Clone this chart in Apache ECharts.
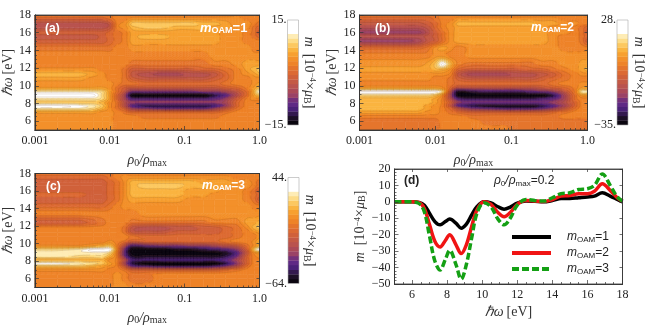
<!DOCTYPE html>
<html>
<head>
<meta charset="utf-8">
<style>html,body{margin:0;padding:0;background:#fff}#chart{width:654px;height:327px;filter:blur(0.35px)}</style>
<script src="https://cdn.jsdelivr.net/npm/echarts@6/dist/echarts.min.js"></script>
</head>
<body>
<div id="chart"></div>
<script>
// contour panels: colour-band level (0 black .. 21 white) read at each rho / energy crossing
var rhoCols = [0.001, 0.002, 0.004, 0.006, 0.008, 0.01, 0.0125, 0.016, 0.02, 0.03, 0.05, 0.08, 0.12, 0.18, 0.25, 0.35, 0.5, 0.7, 0.85, 1];
var energyRows = [18, 17.6, 17, 16.6, 16, 15.6, 15, 14.3, 13.4, 12.4, 11.8, 11.3, 10.8, 10.2, 9.7, 9.3, 8.9, 8.5, 8.1, 7.7, 7.4, 7, 6.5, 6, 5];

var gridA = [
  [12,12,12,12,12,12,13,13,13,13,13,13,13,13,13,13,13,13,13,13],
  [11,11,11,11,11,12,13,13,14,14,14,14,14,14,14,14,14,13,13,13],
  [8,8,8,8,8,9,13,14,17,17,17,17,17,16,16,15,14,14,13,12],
  [8,8,8,8,8,9,13,14,16,17,17,16,16,16,15,15,14,14,12,11],
  [10,10,10,10,10,11,12,13,15,15,15,15,15,15,15,14,14,13,12,10],
  [9,9,9,9,10,11,12,13,15,16,16,15,15,15,15,14,14,13,12,11],
  [10,10,10,10,10,11,12,13,15,15,15,15,15,15,15,14,14,13,13,13],
  [12,12,12,12,12,12,13,13,14,14,14,14,14,14,14,14,14,14,13,13],
  [13,13,13,13,13,13,13,13,13,13,13,13,13,13,14,14,14,14,14,14],
  [13,13,13,13,13,13,13,13,12,12,12,12,12,12,13,13,14,15,15,15],
  [14,14,14,14,13,13,13,12,10,10,10,10,10,11,11,12,13,15,16,17],
  [16,16,16,15,14,13,13,12,9,8,7,7,8,8,9,11,13,14,15,16],
  [15,15,15,14,14,13,13,12,10,9,9,9,9,9,10,11,13,13,14,14],
  [14,14,14,14,14,14,13,12,12,11,11,11,11,11,11,12,13,13,14,15],
  [15,15,15,15,15,14,12,10,9,9,9,9,9,9,9,10,11,13,15,17],
  [19,19,19,19,18,15,12,9,5,5,5,5,5,6,6,7,9,12,16,20],
  [21,21,21,21,18,15,11,7,0,0,0,0,0,0,2,4,8,12,15,17],
  [19,19,19,19,18,15,11,7,3,3,3,3,3,3,4,6,10,13,14,14],
  [17,17,17,17,16,14,12,8,6,6,6,6,6,6,6,7,11,13,13,13],
  [21,21,20,19,17,14,12,8,4,2,2,2,2,2,3,6,11,13,13,13],
  [19,19,19,18,16,14,12,10,6,5,4,4,4,4,6,9,12,13,13,13],
  [15,15,15,15,14,14,13,12,11,11,11,11,11,11,11,12,13,13,13,13],
  [14,14,14,14,14,14,13,13,13,12,12,12,12,12,12,13,13,13,13,13],
  [14,14,14,14,14,14,13,13,13,13,13,13,13,13,13,13,13,13,13,13],
  [14,14,14,14,14,14,13,13,13,13,13,13,13,13,13,13,13,13,13,13]
];
var gridB = [
  [12,12,12,12,12,12,13,13,13,13,13,13,13,13,13,13,13,13,13,13],
  [11,11,11,11,11,12,13,13,14,14,14,14,14,14,14,14,13,13,13,13],
  [9,9,9,9,10,11,13,14,16,16,16,16,16,16,15,15,14,14,13,13],
  [8,8,8,8,9,11,13,14,15,15,15,15,15,15,15,14,14,13,12,11],
  [6,6,6,6,8,10,12,14,15,15,15,15,15,15,15,14,14,13,12,10],
  [8,8,8,8,9,10,12,14,15,15,15,15,15,15,15,14,13,13,12,11],
  [6,6,6,7,9,10,12,14,15,15,15,15,15,15,15,14,13,13,12,10],
  [11,11,11,11,12,14,15,14,13,14,14,14,14,14,14,14,13,13,13,13],
  [13,13,13,13,13,14,14,13,13,14,14,14,14,14,14,14,14,14,14,14],
  [14,14,14,14,15,17,21,16,13,12,12,12,12,12,13,13,14,14,15,15],
  [15,15,15,15,15,16,16,14,11,10,10,10,10,11,11,12,13,14,15,16],
  [14,14,14,14,14,14,14,13,9,7,7,7,8,8,9,10,12,13,14,14],
  [14,14,14,14,14,13,13,12,10,9,9,9,9,9,10,11,12,13,13,13],
  [13,13,13,13,13,13,13,12,11,11,11,11,11,11,11,12,13,13,14,14],
  [15,15,15,15,15,15,14,11,8,8,8,8,8,8,9,10,11,13,15,15],
  [21,21,21,21,21,21,18,9,1,2,3,3,3,4,5,6,9,13,19,19],
  [18,18,18,18,18,17,14,7,0,0,0,0,0,0,0,2,7,12,15,15],
  [16,16,16,16,16,15,13,8,3,2,2,2,2,2,3,4,7,12,13,13],
  [16,16,16,16,16,15,13,10,6,5,5,5,5,5,5,6,8,11,13,13],
  [16,16,16,16,15,14,13,9,4,2,1,1,1,1,2,4,7,11,13,13],
  [16,16,16,16,15,14,13,11,8,5,4,3,3,3,4,6,9,12,13,13],
  [15,15,15,15,14,14,13,12,11,10,10,10,10,10,10,11,12,13,13,13],
  [13,13,13,13,13,13,13,13,13,12,12,12,12,12,12,12,13,13,13,13],
  [12,12,12,12,12,12,13,13,13,13,12,12,12,12,12,12,12,12,12,12],
  [12,12,12,12,12,12,13,13,13,13,13,13,12,12,12,12,12,12,12,12]
];
var gridC = [
  [12,12,12,12,12,12,13,13,13,13,13,13,13,13,13,13,13,13,13,13],
  [11,11,11,11,11,12,13,14,14,14,14,14,14,14,14,14,13,13,13,13],
  [10,10,10,10,10,11,12,14,16,16,16,16,16,15,15,15,14,14,13,12],
  [10,10,10,10,10,11,12,14,16,17,17,17,16,16,15,15,14,14,13,12],
  [10,10,10,10,10,11,12,14,16,16,16,16,15,15,15,14,14,13,12,10],
  [11,11,11,10,10,11,12,14,16,16,16,16,15,15,14,14,14,13,12,11],
  [10,10,10,10,10,11,12,14,15,15,15,15,14,14,14,14,14,13,12,10],
  [11,11,11,11,11,12,13,14,14,14,14,14,14,14,14,14,14,14,13,13],
  [13,13,13,13,13,13,13,13,13,14,14,14,14,14,14,14,14,14,14,14],
  [10,10,10,11,12,13,13,13,12,12,12,12,12,12,13,13,13,15,15,16],
  [13,13,13,13,13,13,13,12,9,8,8,9,9,10,10,11,12,14,16,17],
  [13,13,13,13,13,13,13,12,9,9,9,10,10,10,10,11,12,13,14,15],
  [13,13,13,13,13,13,13,13,12,11,11,11,11,11,11,11,12,13,13,14],
  [13,13,13,13,13,14,13,12,10,11,11,11,11,11,11,12,13,13,14,16],
  [14,14,14,15,16,17,13,8,3,4,5,5,6,6,7,8,9,12,14,16],
  [18,18,19,21,21,21,14,5,0,0,0,1,1,2,3,4,6,11,17,21],
  [19,19,19,19,19,18,13,4,0,0,0,0,0,0,0,1,4,10,14,15],
  [19,19,18,18,18,16,13,5,1,1,1,1,1,1,1,2,5,11,13,14],
  [16,16,16,16,16,14,13,8,3,3,3,3,3,3,3,4,7,11,13,13],
  [20,20,19,18,17,15,13,7,2,0,0,0,0,0,0,2,6,11,13,13],
  [17,17,17,16,15,14,13,9,4,3,2,2,2,2,3,5,8,12,13,13],
  [14,14,14,14,14,13,13,12,10,10,10,10,10,10,10,11,12,13,13,13],
  [13,13,13,13,13,13,14,13,12,12,13,13,13,13,13,13,13,13,13,13],
  [13,13,13,13,13,13,14,13,12,12,13,13,13,13,13,13,13,13,13,13],
  [13,13,13,13,13,13,14,14,13,13,13,13,13,13,13,13,13,13,13,13]
];

var bandColors = ['#0b0610', '#1c1026', '#33194f', '#4a2278', '#5f2a85', '#74317a', '#9a4266', '#ab4a58', '#b9534f', '#c45a45', '#d0613a', '#dc6a33', '#e5752c', '#ee8328', '#f3902a', '#f7a030', '#fab440', '#fcc860', '#fddc88', '#feecb5', '#ffffff', '#ffffff', '#ffffff'];

// panel (d) at rho0/rhomax = 0.2
var energy = [5, 6, 6.4, 6.7, 7, 7.3, 7.6, 7.9, 8.15, 8.5, 8.8, 9.1, 9.4, 9.7, 10.1, 10.5, 10.9, 11.25, 11.6, 12, 12.5, 13, 13.5, 14, 14.5, 15, 15.5, 16, 16.4, 16.85, 17.3, 17.7, 18];
var oam1 = [0, 0, -0.3, -2, -7, -12, -14, -12, -10.5, -13, -16, -13.5, -8, -3, 0, -0.7, -3, -4.5, -3.2, -0.8, 0.5, 0.3, 0, 0.8, 2, 2, 2.5, 3, 3.5, 5.5, 3.5, 1.5, 0];
var oam2 = [0, 0, -0.5, -4, -14, -24, -27.5, -23.5, -20, -26, -31.5, -26, -15, -5, 0, -1.5, -6.5, -9, -6.5, -1.5, 0.8, 0.5, 0.2, 1.3, 3.5, 3.8, 5, 5, 6.5, 11, 7, 2.5, 0.3];
var oam3 = [0, 0, -1, -6, -21, -36, -41.5, -35, -29.5, -38, -47, -38, -22, -7, -0.5, -3, -10.5, -14, -10, -2, 1.5, 0.8, 0.5, 2.5, 5, 5.5, 7.5, 8, 10, 17, 10, 3, 0.5];

var energyTicks = [6, 8, 10, 12, 14, 16, 18];
var energyMinor = [5, 5.5, 6.5, 7, 7.5, 8.5, 9, 9.5, 10.5, 11, 11.5, 12.5, 13, 13.5, 14.5, 15, 15.5, 16.5, 17, 17.5];
var rhoMinor = [0.002, 0.003, 0.004, 0.005, 0.006, 0.007, 0.008, 0.009, 0.02, 0.03, 0.04, 0.05, 0.06, 0.07, 0.08, 0.09, 0.2, 0.3, 0.4, 0.5, 0.6, 0.7, 0.8, 0.9];
var rhoTicks = [0.001, 0.01, 0.1, 1];
var mTicks = [-50, -40, -30, -20, -10, 0, 10, 20];
var mMinor = [-48, -46, -44, -42, -38, -36, -34, -32, -28, -26, -24, -22, -18, -16, -14, -12, -8, -6, -4, -2, 2, 4, 6, 8, 12, 14, 16, 18];

var serif = '"Liberation Serif"';
var sans = '"Liberation Sans"';
var frame = '#333';
var nameRich = {
  i: { fontFamily: serif, fontSize: 14, fontStyle: 'italic', color: '#333' },
  t: { fontFamily: serif, fontSize: 14, color: '#333' },
  s: { fontFamily: serif, fontSize: 10, color: '#333', verticalAlign: 'bottom', padding: [5, 0, 0, 0] },
  si: { fontFamily: serif, fontSize: 10, fontStyle: 'italic', color: '#333', verticalAlign: 'bottom', padding: [5, 0, 0, 0] },
  u: { fontFamily: serif, fontSize: 9, color: '#333', verticalAlign: 'top', padding: [0, 0, 4, 0] }
};
var rhoName = '{i|ρ}{s|0}{i|/ρ}{s|max}';
var energyName = '{i|ℏω} {t|[eV]}';
var mName = '{i|m}{t|  [10}{u|−4}{t|×}{i|μ}{s|B}{t|]}';

var option = {
  animation: false,
  backgroundColor: '#fff',
  textStyle: { fontFamily: serif },
  grid: [], xAxis: [], yAxis: [], series: [],
  graphic: []
};

function mark(ticks, len) {
  return { show: true, inside: true, length: len, customValues: ticks, lineStyle: { color: frame, width: 0.7 } };
}
function rhoLabel(v) {
  return v >= 1 ? '1.0' : String(+v.toPrecision(1));
}

// one frame: labelled axes at bottom/left, minor-tick axes on the same sides, ticks on top/right
function addFrame(box, xCfg, yCfg) {
  var g = option.grid.length;
  option.grid.push({ left: box[0], top: box[1], width: box[2], height: box[3], show: true, borderColor: frame, borderWidth: 0.8, backgroundColor: 'transparent', z: 5 });
  var xBase = { gridIndex: g, type: xCfg.type, logBase: 10, min: xCfg.min, max: xCfg.max, axisLine: { show: true, onZero: false, lineStyle: { color: frame, width: 0.8 } }, splitLine: { show: false }, z: 6 };
  var yBase = { gridIndex: g, type: 'value', min: yCfg.min, max: yCfg.max, axisLine: { show: true, onZero: false, lineStyle: { color: frame, width: 0.8 } }, splitLine: { show: false }, z: 6 };
  var x0 = option.xAxis.length, y0 = option.yAxis.length;
  option.xAxis.push(Object.assign({}, xBase, {
    position: 'bottom', axisTick: mark(xCfg.ticks, 4),
    axisLabel: { customValues: xCfg.ticks, formatter: xCfg.fmt, fontFamily: serif, fontSize: 12, color: '#222', margin: 5, hideOverlap: false, showMinLabel: true, showMaxLabel: true },
    name: xCfg.name, nameLocation: 'middle', nameGap: xCfg.gap, nameTextStyle: { rich: nameRich }
  }));
  option.xAxis.push(Object.assign({}, xBase, { position: 'bottom', axisLabel: { show: false }, axisTick: mark(xCfg.minor, 2) }));
  option.xAxis.push(Object.assign({}, xBase, { position: 'top', axisLabel: { show: false }, axisTick: mark(xCfg.ticks, 3) }));
  option.yAxis.push(Object.assign({}, yBase, {
    position: 'left', axisTick: mark(yCfg.ticks, 4),
    axisLabel: { customValues: yCfg.ticks, formatter: yCfg.fmt, fontFamily: serif, fontSize: 12, color: '#222', margin: 4, hideOverlap: false, showMinLabel: true, showMaxLabel: true },
    name: yCfg.name, nameLocation: 'middle', nameGap: yCfg.gap, nameTextStyle: { rich: nameRich }
  }));
  option.yAxis.push(Object.assign({}, yBase, { position: 'left', axisLabel: { show: false }, axisTick: mark(yCfg.minor, 2) }));
  option.yAxis.push(Object.assign({}, yBase, { position: 'right', axisLabel: { show: false }, axisTick: mark(yCfg.ticks, 3) }));
  return { x: x0, y: y0 };
}

// part of a polygon where level >= t
function clipAbove(pts, t) {
  var out = [];
  for (var i = 0; i < pts.length; i++) {
    var a = pts[i], b = pts[(i + 1) % pts.length];
    if (a[2] >= t) out.push(a);
    if ((a[2] >= t) !== (b[2] >= t)) {
      var f = (t - a[2]) / (b[2] - a[2]);
      out.push([a[0] + f * (b[0] - a[0]), a[1] + f * (b[1] - a[1]), t]);
    }
  }
  return out;
}
function poly(pts, color) {
  return { type: 'polygon', shape: { points: pts.map(function (p) { return [p[0], p[1]]; }) }, style: { fill: color, stroke: color, lineWidth: 0.5 }, silent: true };
}
function cubic(p0, p1, p2, p3, t) {
  return p1 + 0.5 * t * (p2 - p0 + t * (2 * p0 - 5 * p1 + 4 * p2 - p3 + t * (3 * p1 - p0 - 3 * p2 + p3)));
}
// rounds the contour shapes inside one cell, held to the range of that cell's own corners
function levelAt(levels, c, r, fx, fy) {
  var rows = [];
  for (var j = -1; j <= 2; j++) {
    var row = levels[Math.max(0, Math.min(levels.length - 1, r + j))];
    rows.push(cubic(row[Math.max(0, c - 1)], row[c], row[c + 1], row[Math.min(row.length - 1, c + 2)], fx));
  }
  var v = cubic(rows[0], rows[1], rows[2], rows[3], fy);
  var lo = Math.min(levels[r][c], levels[r][c + 1], levels[r + 1][c], levels[r + 1][c + 1]);
  var hi = Math.max(levels[r][c], levels[r][c + 1], levels[r + 1][c], levels[r + 1][c + 1]);
  return Math.max(lo, Math.min(hi, v));
}

var SUB = 4;
function contourItem(levels, lines) {
  return function (params, api) {
    var c = api.value(2), r = api.value(3);
    var a = api.coord([rhoCols[c], energyRows[r]]), b = api.coord([rhoCols[c + 1], energyRows[r + 1]]);
    var children = [];
    function node(i, j) {
      return [a[0] + (b[0] - a[0]) * i / SUB, a[1] + (b[1] - a[1]) * j / SUB, levelAt(levels, c, r, i / SUB, j / SUB)];
    }
    function shade(pts) {
      var vals = pts.map(function (p) { return p[2]; });
      var lo = Math.min.apply(null, vals), hi = Math.max.apply(null, vals);
      var start = Math.round(lo);
      if (!lines) children.push(poly(pts, bandColors[start]));
      for (var k = start + 1; k - 0.5 < hi; k++) {
        var part = clipAbove(pts, k - 0.5);
        if (part.length < 3) continue;
        if (lines) {
          var cut = part.filter(function (p) { return p[2] === k - 0.5; });
          if (cut.length === 2) children.push({ type: 'line', shape: { x1: cut[0][0], y1: cut[0][1], x2: cut[1][0], y2: cut[1][1] }, style: { stroke: 'rgba(110,62,30,0.3)', lineWidth: 0.5 }, silent: true });
        } else {
          children.push(poly(part, bandColors[k]));
        }
      }
    }
    var corners = [levels[r][c], levels[r][c + 1], levels[r + 1][c], levels[r + 1][c + 1]];
    if (corners[0] === corners[1] && corners[1] === corners[2] && corners[2] === corners[3]) {
      shade([node(0, 0), node(SUB, 0), node(SUB, SUB), node(0, SUB)]);
    } else {
      for (var i = 0; i < SUB; i++) {
        for (var j = 0; j < SUB; j++) {
          var p = node(i, j), q = node(i + 1, j), s = node(i + 1, j + 1), t = node(i, j + 1);
          shade([p, q, s]);
          shade([p, s, t]);
        }
      }
    }
    return { type: 'group', children: children };
  };
}

function barItem(params, api) {
  var p = api.coord([0, api.value(1)]), size = api.size([1, 1]);
  return { type: 'rect', shape: { x: p[0] - size[0] / 2, y: p[1] - size[1] / 2, width: size[0], height: size[1] + 0.3 }, style: { fill: bandColors[api.value(1)] }, silent: true };
}

function addPanel(levels, box, barBox, range, barLabels) {
  var ax = addFrame(box,
    { type: 'log', min: 0.001, max: 1, ticks: rhoTicks, minor: rhoMinor, fmt: rhoLabel, name: rhoName, gap: 23 },
    { min: 5, max: 18, ticks: energyTicks, minor: energyMinor, fmt: '{value}', name: energyName, gap: 17 });
  var cells = [];
  for (var r = 0; r < energyRows.length - 1; r++) {
    for (var c = 0; c < rhoCols.length - 1; c++) {
      cells.push([rhoCols[c], energyRows[r], c, r]);
    }
  }
  [false, true].forEach(function (lines) {
    option.series.push({
      type: 'custom', xAxisIndex: ax.x, yAxisIndex: ax.y, coordinateSystem: 'cartesian2d',
      data: cells, encode: { x: 0, y: 1 }, renderItem: contourItem(levels, lines),
      clip: true, silent: true, z: lines ? 3 : 2, progressive: 0
    });
  });

  // colour bar
  var g = option.grid.length;
  option.grid.push({ left: barBox[0], top: barBox[1], width: barBox[2], height: barBox[3], show: true, borderColor: '#aaa', borderWidth: 0.6, backgroundColor: 'transparent', z: 5 });
  var bx = option.xAxis.length, by = option.yAxis.length;
  option.xAxis.push({ gridIndex: g, type: 'category', data: ['m'], show: false });
  option.yAxis.push({ gridIndex: g, type: 'category', data: bandColors.map(function (col, i) { return i; }), show: false });
  option.yAxis.push({
    gridIndex: g, type: 'value', min: range[0], max: range[1], position: 'left',
    axisLine: { show: false }, axisTick: { show: false }, splitLine: { show: false },
    axisLabel: { customValues: range, formatter: function (v) { return barLabels[v === range[0] ? 0 : 1]; }, fontFamily: serif, fontSize: 12, color: '#222', margin: 1, showMinLabel: true, showMaxLabel: true, hideOverlap: false }
  });
  option.yAxis.push({
    gridIndex: g, type: 'value', min: range[0], max: range[1], position: 'right',
    axisLine: { show: false }, axisTick: { show: false }, axisLabel: { show: false }, splitLine: { show: false },
    name: mName, nameLocation: 'middle', nameRotate: -90, nameGap: 3, nameTextStyle: { rich: nameRich }
  });
  option.series.push({
    type: 'custom', xAxisIndex: bx, yAxisIndex: by, coordinateSystem: 'cartesian2d', silent: true, clip: true,
    data: bandColors.map(function (col, i) { return [0, i]; }), encode: { x: 0, y: 1 }, renderItem: barItem
  });
}

addPanel(gridA, [30.5, 15, 229, 115], [287.5, 20, 11, 105], [-15, 15], ['−15.', '15.']);
addPanel(gridB, [359.5, 15, 228, 115], [617, 20, 11, 105], [-35, 28], ['−35.', '28.']);
addPanel(gridC, [30.5, 173.5, 229, 114], [288, 177.5, 11, 106], [-64, 44], ['−64.', '44.']);

// panel (d)
var axD = addFrame([394.5, 169, 228, 115],
  { type: 'value', min: 5, max: 18, ticks: energyTicks, minor: energyMinor, fmt: '{value}', name: energyName, gap: 21 },
  { min: -50, max: 20, ticks: mTicks, minor: mMinor, fmt: function (v) { return v < 0 ? '−' + (-v) : String(v); }, name: mName, gap: 19 });
var lineSets = [
  ['mOAM=1', oam1, '#000000', 'solid'],
  ['mOAM=2', oam2, '#f01414', 'solid'],
  ['mOAM=3', oam3, '#14a014', [7, 3]]
];
lineSets.forEach(function (s) {
  option.series.push({
    name: s[0], type: 'line', xAxisIndex: axD.x, yAxisIndex: axD.y, showSymbol: false, symbol: 'none', smooth: 0.35,
    data: energy.map(function (e, i) { return [e, s[1][i]]; }),
    lineStyle: { color: s[2], width: 3.5, type: s[3] }, itemStyle: { color: s[2] }, z: 4
  });
});
option.legend = {
  left: 505, top: 226, orient: 'vertical', itemWidth: 39, itemHeight: 14, itemGap: 3.5,
  itemStyle: { opacity: 0 },
  lineStyle: { width: 4 },
  data: lineSets.map(function (s) { return s[0]; }),
  formatter: function (name) { return '{i|m}{s|OAM}{n|' + name.slice(4) + '}'; },
  textStyle: {
    padding: [0, 0, 0, 11],
    rich: {
      i: { fontFamily: sans, fontSize: 12, fontStyle: 'italic', color: '#222' },
      s: { fontFamily: sans, fontSize: 8, color: '#222', verticalAlign: 'bottom', padding: [5, 0, 0, 0] },
      n: { fontFamily: sans, fontSize: 12, color: '#222' }
    }
  }
};

function panelTag(x, y, color, body, size) {
  return {
    type: 'text', left: x, top: y, z: 20, silent: true,
    style: {
      text: body, fill: color, font: 'bold ' + size + 'px ' + sans,
      rich: {
        i: { fontFamily: sans, fontWeight: 'bold', fontSize: size, fontStyle: 'italic', fill: color, color: color },
        s: { fontFamily: sans, fontWeight: 'bold', fontSize: size - 4, fill: color, color: color, verticalAlign: 'bottom', padding: [4, 0, 0, 0] },
        n: { fontFamily: sans, fontWeight: 'bold', fontSize: size, fill: color, color: color }
      }
    }
  };
}
option.graphic = [
  panelTag(45, 23, '#fff', '{n|(a)}', 12),
  panelTag(200, 22, '#fff', '{i|m}{s|OAM}{n|=1}', 13),
  panelTag(375, 23, '#fff', '{n|(b)}', 12),
  panelTag(531, 22, '#fff', '{i|m}{s|OAM}{n|=2}', 12),
  panelTag(46, 181, '#fff', '{n|(c)}', 12),
  panelTag(202, 180, '#fff', '{i|m}{s|OAM}{n|=3}', 12),
  panelTag(404, 175, '#222', '{n|(d)}', 12),
  {
    type: 'text', left: 494, top: 175, z: 20, silent: true,
    style: {
      text: '{i|ρ}{s|0}{i|/ρ}{s|max}{n|=0.2}',
      rich: {
        i: { fontFamily: sans, fontSize: 12, fontStyle: 'italic', fill: '#222' },
        s: { fontFamily: sans, fontSize: 8, fill: '#222', verticalAlign: 'bottom', padding: [5, 0, 0, 0] },
        n: { fontFamily: sans, fontSize: 12, fill: '#222' }
      }
    }
  }
];

var chart = echarts.init(document.getElementById('chart'), null, { renderer: 'canvas' });
chart.setOption(option);
</script>
</body>
</html>
